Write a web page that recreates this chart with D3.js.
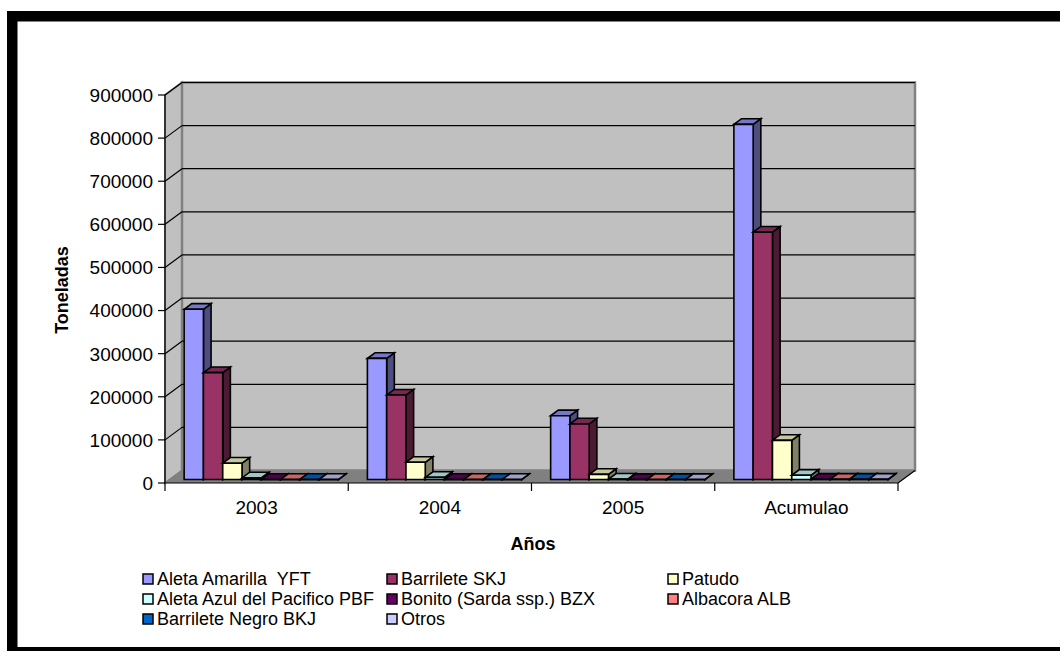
<!DOCTYPE html>
<html>
<head>
<meta charset="utf-8">
<script src="https://cdn.jsdelivr.net/npm/d3@7"></script>
<style>
  html, body { margin: 0; padding: 0; background: #fff; }
  svg { display: block; font-family: "Liberation Sans", Arial, sans-serif; }
</style>
</head>
<body>
<svg id="chart" width="1060" height="651"></svg>
<script>
// Capturas por especie (toneladas)
const categories = ["2003", "2004", "2005", "Acumulao"];
const seriesNames = [
  "Aleta Amarilla  YFT", "Barrilete SKJ", "Patudo",
  "Aleta Azul del Pacifico PBF", "Bonito (Sarda ssp.) BZX", "Albacora ALB",
  "Barrilete Negro BKJ", "Otros"
];
const yft   = [395000, 281000, 148000, 824000];
const skj   = [248000, 196000, 129000, 574000];
const patudo = [38000, 40000, 12000, 91000];
const pbf   = [4000, 5000, 1000, 10000];
const bzx   = [300, 300, 200, 800];
const alb   = [300, 300, 200, 800];
const bkj   = [300, 300, 200, 800];
const otros = [300, 300, 200, 800];
const seriesValues = [yft, skj, patudo, pbf, bzx, alb, bkj, otros];
const seriesColors = ["#9999FF", "#993366", "#FFFFCC", "#CCFFFF", "#660066", "#FF8080", "#0066CC", "#CCCCFF"];
const yTicks = [0, 100000, 200000, 300000, 400000, 500000, 600000, 700000, 800000, 900000];

const svg = d3.select("#chart");

// Outer chart frame
svg.append("rect")
  .attr("x", 12.25).attr("y", 16.25)
  .attr("width", 1100).attr("height", 636)
  .attr("fill", "#fff").attr("stroke", "#000").attr("stroke-width", 10.5);

// 3D plot geometry: front plane and depth offset
const x0 = 165, x1 = 898;
const depth = { dx: 17, dy: -12.5 };
const y = d3.scaleLinear().domain([0, 900000]).range([483, 95]);
const xCat = d3.scaleBand().domain(categories).range([x0, x1]).paddingInner(0).paddingOuter(0);
const bw = xCat.bandwidth();
const barW = bw / (seriesNames.length + 1.5);
const xSer = d3.scaleBand().domain(d3.range(seriesNames.length))
  .range([0.75 * barW, bw - 0.75 * barW]).padding(0);

const P = (x, yy, f) => [x + f * depth.dx, yy + f * depth.dy];
const poly = pts => "M" + pts.map(p => p.join(",")).join("L") + "Z";

// Walls and floor
const g = svg.append("g");
g.append("path") // left side wall
  .attr("d", poly([P(x0, y(0), 0), P(x0, y(0), 1), P(x0, y(900000), 1), P(x0, y(900000), 0)]))
  .attr("fill", "#C0C0C0").attr("stroke", "#808080").attr("stroke-width", 2);
g.append("path") // back wall
  .attr("d", poly([P(x0, y(0), 1), P(x1, y(0), 1), P(x1, y(900000), 1), P(x0, y(900000), 1)]))
  .attr("fill", "#C0C0C0").attr("stroke", "#808080").attr("stroke-width", 2.5);
g.append("path") // floor
  .attr("d", poly([P(x0, y(0), 0), P(x1, y(0), 0), P(x1, y(0), 1), P(x0, y(0), 1)]))
  .attr("fill", "#808080").attr("stroke", "none");

// Gridlines on the back wall and left wall
yTicks.filter(v => v > 0).forEach(v => {
  const a = P(x0, y(v), 1), b = P(x1, y(v), 1), c = P(x0, y(v), 0);
  g.append("line").attr("x1", a[0]).attr("y1", a[1]).attr("x2", b[0]).attr("y2", b[1])
    .attr("stroke", "#000").attr("stroke-width", 1.2);
  g.append("line").attr("x1", c[0]).attr("y1", c[1]).attr("x2", a[0]).attr("y2", a[1])
    .attr("stroke", "#000").attr("stroke-width", 1.2);
});

// Bars (front, top and side faces)
const f0 = 0.275, f1 = 0.725;
const bars = svg.append("g").attr("stroke", "#000").attr("stroke-width", 1.6).attr("stroke-linejoin", "miter");
categories.forEach((cat, ci) => {
  seriesValues.forEach((vals, si) => {
    const v = vals[ci];
    const xl = xCat(cat) + xSer(si), xr = xl + xSer.bandwidth();
    const base = y(0), top = y(v);
    const col = d3.color(seriesColors[si]);
    const side = d3.rgb(col.r * 0.5, col.g * 0.5, col.b * 0.5);
    const topC = d3.rgb(col.r * 0.78, col.g * 0.78, col.b * 0.78);
    bars.append("path")
      .attr("d", poly([P(xr, top, f0), P(xr, top, f1), P(xr, base, f1), P(xr, base, f0)]))
      .attr("fill", side);
    bars.append("path")
      .attr("d", poly([P(xl, top, f0), P(xl, top, f1), P(xr, top, f1), P(xr, top, f0)]))
      .attr("fill", topC);
    bars.append("path")
      .attr("d", poly([P(xl, top, f0), P(xr, top, f0), P(xr, base, f0), P(xl, base, f0)]))
      .attr("fill", col);
  });
});

// Value axis
const ax = svg.append("g").attr("stroke", "#000").attr("stroke-width", 1.2);
ax.append("line").attr("x1", x0).attr("y1", y(0)).attr("x2", x0).attr("y2", y(900000));
yTicks.forEach(v => {
  ax.append("line").attr("x1", x0 - 7).attr("y1", y(v)).attr("x2", x0).attr("y2", y(v));
});
svg.append("g").selectAll("text").data(yTicks).join("text")
  .attr("x", x0 - 12).attr("y", d => y(d)).attr("dy", "0.36em")
  .attr("text-anchor", "end").attr("font-size", 19).attr("fill", "#000")
  .text(d => d3.format("d")(d));

// Category axis
ax.append("line").attr("x1", x0).attr("y1", y(0)).attr("x2", x1).attr("y2", y(0));
const fr = P(x1, y(0), 1);
ax.append("line").attr("x1", x1).attr("y1", y(0)).attr("x2", fr[0]).attr("y2", fr[1]);
categories.concat([null]).forEach((c, i) => {
  const xt = i < categories.length ? xCat(c) : x1;
  ax.append("line").attr("x1", xt).attr("y1", y(0)).attr("x2", xt).attr("y2", y(0) + 8);
});
svg.append("g").selectAll("text").data(categories).join("text")
  .attr("x", d => xCat(d) + bw / 2).attr("y", 514)
  .attr("text-anchor", "middle").attr("font-size", 19).attr("fill", "#000")
  .text(d => d);

// Axis titles
svg.append("text").attr("x", 533).attr("y", 550).attr("text-anchor", "middle")
  .attr("font-size", 18).attr("font-weight", "bold").text("Años");
svg.append("text").attr("transform", "translate(68,290) rotate(-90)")
  .attr("text-anchor", "middle").attr("font-size", 18).attr("font-weight", "bold").text("Toneladas");

// Legend
const legX = [143, 387, 668], legY = [579, 599, 619];
const leg = svg.append("g");
seriesNames.forEach((name, i) => {
  const lx = legX[i % 3], ly = legY[Math.floor(i / 3)];
  leg.append("rect").attr("x", lx).attr("y", ly - 5).attr("width", 10).attr("height", 10)
    .attr("fill", seriesColors[i]).attr("stroke", "#000").attr("stroke-width", 1.5);
  leg.append("text").attr("x", lx + 14).attr("y", ly).attr("dy", "0.36em")
    .attr("font-size", 18).attr("fill", "#000").attr("xml:space", "preserve")
    .style("white-space", "pre").text(name);
});
</script>
</body>
</html>
